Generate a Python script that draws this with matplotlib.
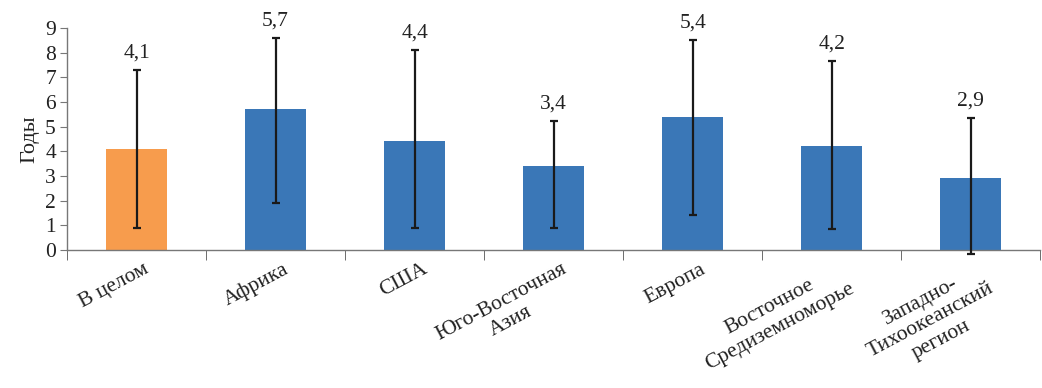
import numpy as np
import matplotlib.pyplot as plt
import matplotlib.transforms as mtransforms

# data
categories = ['В целом', 'Африка', 'США', 'Юго-Восточная\nАзия', 'Европа',
              'Восточное\nСредиземноморье', 'Западно-\nТихоокеанский\nрегион']
values = [4.1, 5.7, 4.4, 3.4, 5.4, 4.2, 2.9]
err_low = [0.9, 1.9, 0.9, 0.9, 1.4, 0.85, -0.15]
err_high = [7.3, 8.6, 8.1, 5.25, 8.5, 7.65, 5.35]
colors = ['#F79C4D', '#3A77B7', '#3A77B7', '#3A77B7', '#3A77B7', '#3A77B7', '#3A77B7']

plt.rcParams['font.family'] = ['Liberation Serif', 'DejaVu Serif']

fig = plt.figure(figsize=(10.42, 3.88), dpi=100)
ax = fig.add_axes([0.0643, 0.3557, 0.934, 0.572])

x = np.arange(len(categories))
vals = np.array(values)
yerr = np.array([vals - np.array(err_low), np.array(err_high) - vals])

ax.bar(x, vals, width=0.44, color=colors, zorder=2)
eb = ax.errorbar(x, vals, yerr=yerr, fmt='none', ecolor='#1a1a1a',
                 elinewidth=1.6, capsize=3, capthick=1.6, zorder=3)
for artist in eb.lines[1] + eb.lines[2]:
    artist.set_clip_on(False)

for xi, v, top in zip(x, values, err_high):
    ax.text(xi, top + 0.3, f'{v:.1f}'.replace('.', ','), ha='center',
            va='bottom', fontsize=15.5, color='#222222')

ax.set_xlim(-0.5, len(categories) - 0.5)
ax.set_ylim(0, 9)
ax.set_yticks(range(10))
ax.tick_params(axis='y', labelsize=15.5, length=5, color='#777777',
               labelcolor='#222222', pad=3)

# category labels (no tick marks), tick marks at group boundaries
ax.set_xticks(x)
ax.set_xticklabels(categories, rotation=28, ha='right', va='top',
                   rotation_mode='anchor', multialignment='center',
                   fontsize=15.5, color='#222222')
ax.tick_params(axis='x', which='major', length=0, pad=7)
ax.set_xticks(np.arange(-0.5, len(categories)), minor=True)
ax.tick_params(axis='x', which='minor', length=7, color='#555555')
offset = mtransforms.ScaledTranslation(0.07, 0, fig.dpi_scale_trans)
for lbl in ax.get_xticklabels():
    lbl.set_transform(lbl.get_transform() + offset)

for s in ['top', 'right']:
    ax.spines[s].set_visible(False)
for s in ['left', 'bottom']:
    ax.spines[s].set_color('#777777')
    ax.spines[s].set_linewidth(1.0)

ax.set_ylabel('Годы', fontsize=16, color='#222222', labelpad=4)

fig.savefig('out.png', dpi=100)
plt.close()
